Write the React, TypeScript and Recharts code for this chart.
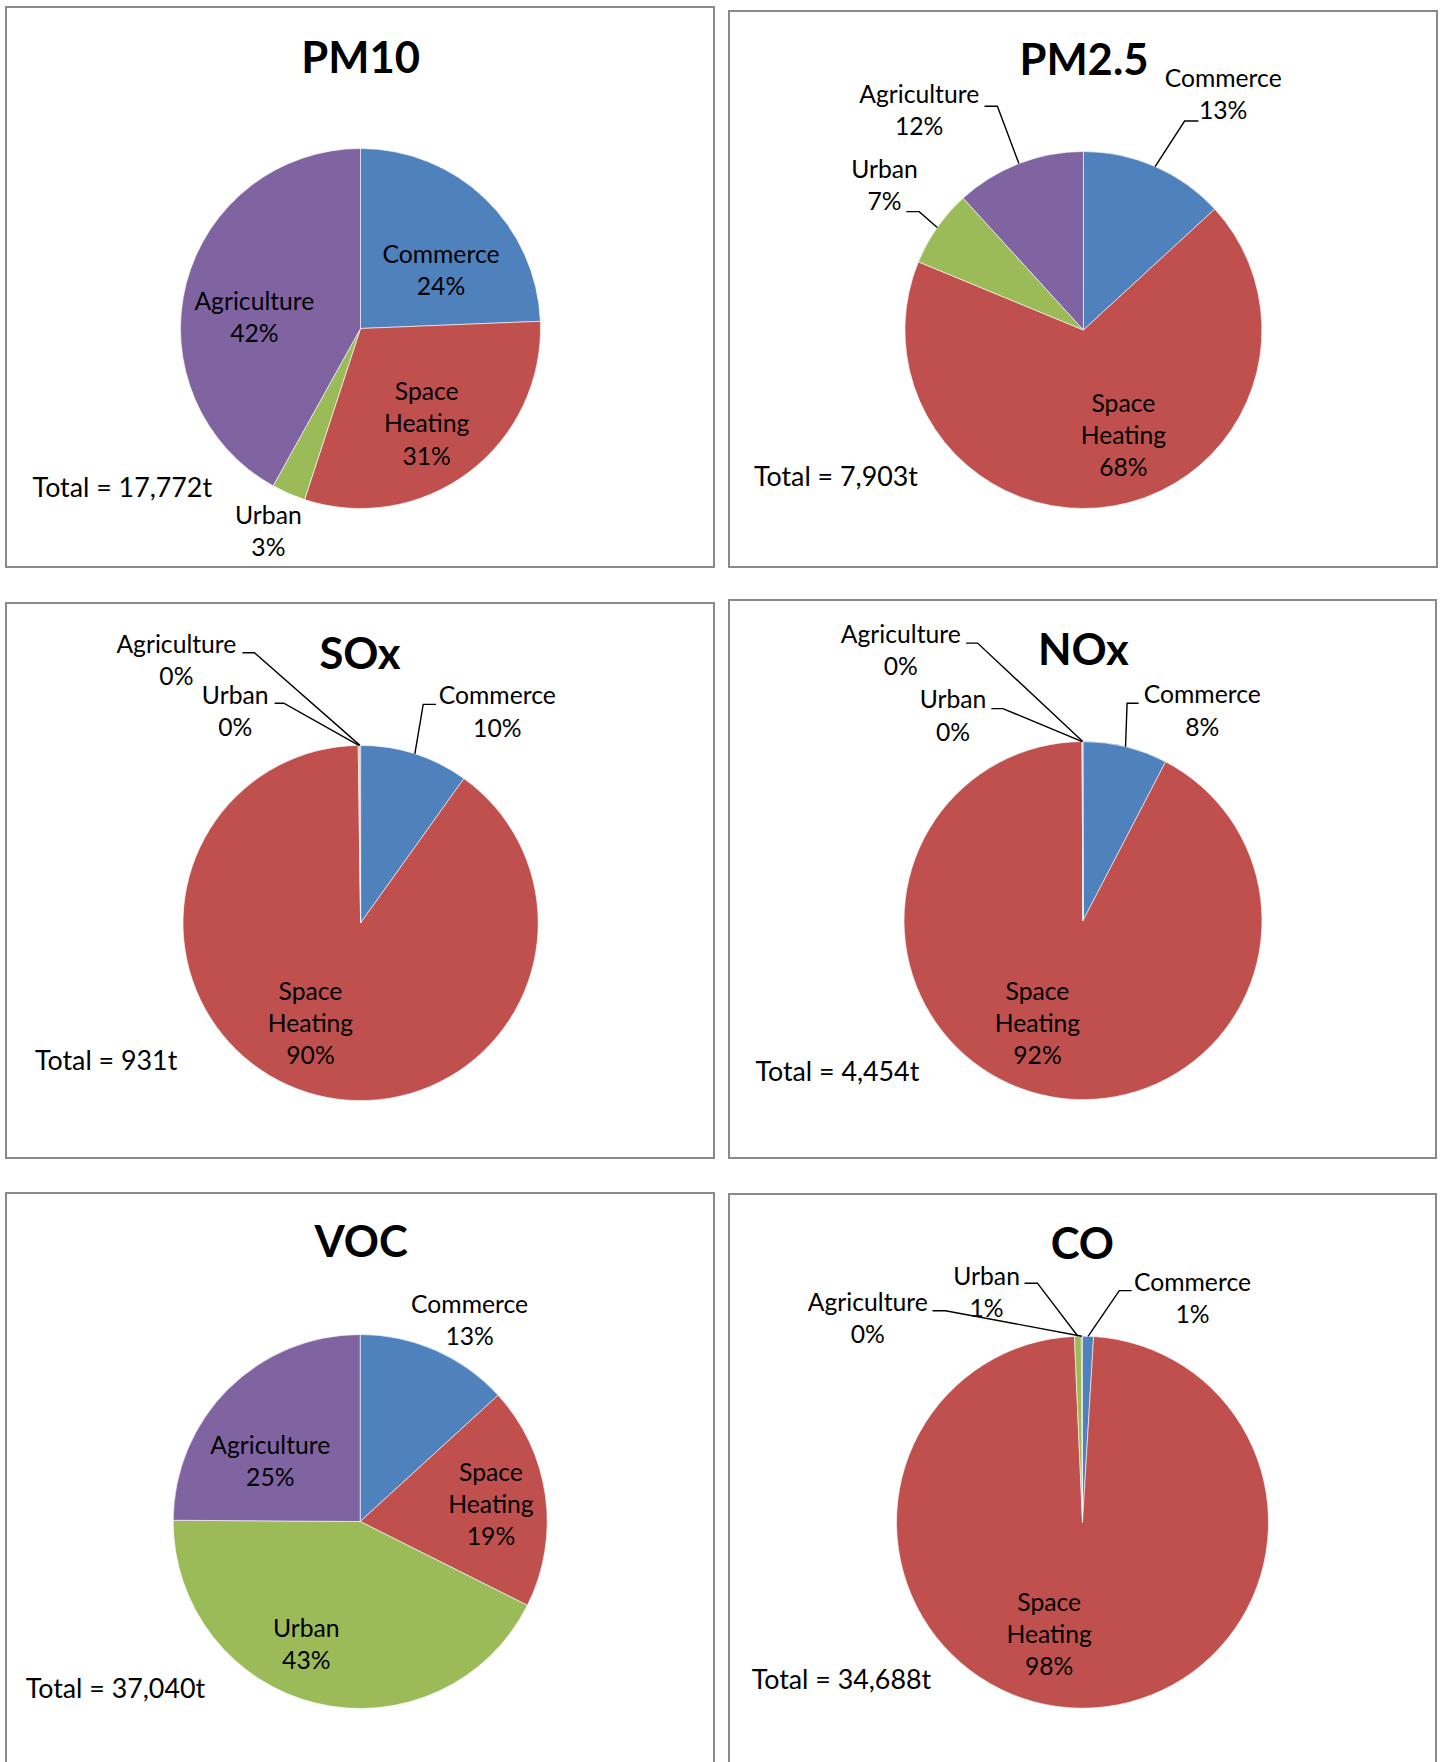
import React from 'react';
import { PieChart, Pie, Cell } from 'recharts';

// ---------- data ----------
const categories = ['Commerce', 'Space Heating', 'Urban', 'Agriculture'];
const sliceColors = ['#4F81BD', '#C0504D', '#9BBB59', '#8064A2'];

// emissions in tonnes, in category order
const pm10Values = [4330, 5450, 540, 7452];
const pm25Values = [1040, 5380, 553, 930];
const soxValues = [92, 837, 1, 1];
const noxValues = [340, 4110, 2, 2];
const vocValues = [4890, 7110, 15820, 9220];
const coValues = [330, 34118, 205, 35];

const pollutantTitles = ['PM10', 'PM2.5', 'SOx', 'NOx', 'VOC', 'CO'];

// ---------- layout (page coordinates) ----------
const FONT = "Lato, 'Open Sans', 'DejaVu Sans', sans-serif";
const LABEL_SIZE = 24.7;
const LINE_H = 32.3;
const TITLE_SIZE = 43.6;
const TOTAL_SIZE = 26.8;

type Leader = { x1: number; x2: number; y: number };
type LabelPos = { dx: number; dy: number; leader?: Leader };
type PanelLayout = {
  box: { left: number; top: number; width: number; height: number };
  cx: number;
  cy: number;
  r: number;
  title: { x: number; y: number };
  total: { x: number; y: number };
  labels: LabelPos[];
};

const layouts: PanelLayout[] = [
  {
    box: { left: 5, top: 6, width: 710, height: 562 },
    cx: 360.5, cy: 328.5, r: 180,
    title: { x: 360.6, y: 72.5 },
    total: { x: 32.6, y: 496.9 },
    labels: [
      { dx: 80.5, dy: -65.8 },
      { dx: 66.2, dy: 71.5 },
      { dx: -92.1, dy: 195 },
      { dx: -106.1, dy: -18.5 },
    ],
  },
  {
    box: { left: 728, top: 10, width: 710, height: 558 },
    cx: 1083.4, cy: 330, r: 178.5,
    title: { x: 1084, y: 75.1 },
    total: { x: 754, y: 485.8 },
    labels: [
      { dx: 139.8, dy: -243.1, leader: { x1: 115, x2: 101.2, y: -209 } },
      { dx: 40, dy: 81.8 },
      { dx: -198.9, dy: -152.4, leader: { x1: -177.1, x2: -164.2, y: -118.4 } },
      { dx: -164.2, dy: -227.2, leader: { x1: -98.9, x2: -86, y: -223.8 } },
    ],
  },
  {
    box: { left: 5, top: 602, width: 710, height: 557 },
    cx: 360.6, cy: 923, r: 177.6,
    title: { x: 360, y: 669.2 },
    total: { x: 35, y: 1069.9 },
    labels: [
      { dx: 136.7, dy: -218.6, leader: { x1: 75.4, x2: 62.6, y: -218.6 } },
      { dx: -50.1, dy: 76.8 },
      { dx: -125.4, dy: -219.4, leader: { x1: -86, x2: -76.8, y: -219.8 } },
      { dx: -184.2, dy: -270.3, leader: { x1: -118.2, x2: -106.2, y: -270.3 } },
    ],
  },
  {
    box: { left: 728, top: 599, width: 709, height: 560 },
    cx: 1083, cy: 920.6, r: 179,
    title: { x: 1083.4, y: 665 },
    total: { x: 755.4, y: 1080.6 },
    labels: [
      { dx: 119.3, dy: -217.4, leader: { x1: 55.6, x2: 44.1, y: -217.4 } },
      { dx: -45.5, dy: 79.2 },
      { dx: -130, dy: -212.4, leader: { x1: -91.6, x2: -80.1, y: -212 } },
      { dx: -182.2, dy: -277.5, leader: { x1: -116.9, x2: -105.4, y: -277.5 } },
    ],
  },
  {
    box: { left: 5, top: 1192, width: 710, height: 600 },
    cx: 360.2, cy: 1521.5, r: 187,
    title: { x: 361.1, y: 1256.5 },
    total: { x: 25.7, y: 1697.8 },
    labels: [
      { dx: 109.4, dy: -209 },
      { dx: 130.8, dy: -40.8 },
      { dx: -53.9, dy: 115.1 },
      { dx: -89.9, dy: -67.9 },
    ],
  },
  {
    box: { left: 728, top: 1193, width: 709, height: 600 },
    cx: 1082.5, cy: 1522.2, r: 186,
    title: { x: 1082.4, y: 1259.1 },
    total: { x: 751.7, y: 1688.5 },
    labels: [
      { dx: 110, dy: -231.6, leader: { x1: 49.2, x2: 36.8, y: -231.6 } },
      { dx: -33.3, dy: 88.4 },
      { dx: -95.9, dy: -237.2, leader: { x1: -58, x2: -45.1, y: -239 } },
      { dx: -214.7, dy: -211.5, leader: { x1: -150, x2: -137.1, y: -211.5 } },
    ],
  },
];

const seriesValues = [pm10Values, pm25Values, soxValues, noxValues, vocValues, coValues];

const RAD = Math.PI / 180;

const makeLabel = (labels: LabelPos[]) => (props: any) => {
  const { cx, cy, midAngle, outerRadius, percent, index, name } = props;
  const l = labels[index];
  if (!l) return null;
  const lines = [...String(name).split(' '), `${Math.round(percent * 100)}%`];
  let leader = null;
  if (l.leader) {
    const px = cx + outerRadius * Math.cos(-midAngle * RAD);
    const py = cy + outerRadius * Math.sin(-midAngle * RAD);
    leader = (
      <polyline
        points={`${cx + l.leader.x1},${cy + l.leader.y} ${cx + l.leader.x2},${cy + l.leader.y} ${px},${py}`}
        fill="none"
        stroke="#000"
        strokeWidth={1.4}
      />
    );
  }
  const x = cx + l.dx;
  return (
    <g key={`lbl-${index}`}>
      {leader}
      <text
        x={x}
        y={cy + l.dy}
        textAnchor="middle"
        fill="#000"
        fontFamily={FONT}
        fontSize={LABEL_SIZE}
      >
        {lines.map((t, i) => (
          <tspan key={i} x={x} dy={i === 0 ? 0 : LINE_H}>
            {t}
          </tspan>
        ))}
      </text>
    </g>
  );
};

function Panel({ idx }: { idx: number }) {
  const lay = layouts[idx];
  const values = seriesValues[idx];
  const data = categories.map((name, i) => ({ name, value: values[i] }));
  const total = values.reduce((a, b) => a + b, 0);
  const { left, top, width, height } = lay.box;
  return (
    <div style={{ position: 'absolute', left, top, width, height }}>
      <div
        style={{
          position: 'absolute',
          left: 0,
          top: 0,
          width,
          height,
          boxSizing: 'border-box',
          border: '2px solid #8a8a8a',
          background: '#fff',
        }}
      />
      <div style={{ position: 'absolute', left: 0, top: 0 }}>
        <PieChart width={width} height={height} margin={{ top: 0, right: 0, bottom: 0, left: 0 }}>
          <Pie
            data={data}
            dataKey="value"
            nameKey="name"
            cx={lay.cx - left}
            cy={lay.cy - top}
            outerRadius={lay.r}
            startAngle={90}
            endAngle={-270}
            stroke="#ffffff"
            strokeWidth={0.6}
            isAnimationActive={false}
            labelLine={false}
            label={makeLabel(lay.labels)}
          >
            {data.map((d, i) => (
              <Cell key={d.name} fill={sliceColors[i]} />
            ))}
          </Pie>
        </PieChart>
      </div>
      <svg
        width={width}
        height={height}
        style={{ position: 'absolute', left: 0, top: 0, pointerEvents: 'none' }}
      >
        <text
          x={lay.title.x - left}
          y={lay.title.y - top}
          textAnchor="middle"
          fontFamily={FONT}
          fontWeight={700}
          fontSize={TITLE_SIZE}
          fill="#000"
        >
          {pollutantTitles[idx]}
        </text>
        <text
          x={lay.total.x - left}
          y={lay.total.y - top}
          fontFamily={FONT}
          fontSize={TOTAL_SIZE}
          fill="#000"
        >
          {`Total = ${total.toLocaleString('en-US')}t`}
        </text>
      </svg>
    </div>
  );
}

export default function App() {
  return (
    <div
      style={{
        position: 'absolute',
        left: 0,
        top: 0,
        width: 1440,
        height: 1762,
        overflow: 'hidden',
        background: '#fff',
        fontFamily: FONT,
      }}
    >
      {layouts.map((_, i) => (
        <Panel key={i} idx={i} />
      ))}
    </div>
  );
}
